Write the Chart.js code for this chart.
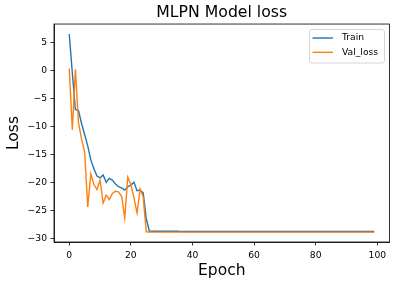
<!DOCTYPE html>
<html>
<head>
<meta charset="utf-8">
<script src="https://cdn.jsdelivr.net/npm/chart.js@4.4.1/dist/chart.umd.min.js"></script>
<style>
  html, body { margin: 0; padding: 0; background: #fff; }
  #wrap { width: 396px; height: 285px; }
</style>
</head>
<body>
<div id="wrap"><canvas id="lossChart" width="396" height="285"></canvas></div>
<script>
// DADOS DO GRÁFICO
const epochs = Array.from({ length: 100 }, (_, i) => i);

const trainLoss = [
  6.5, -0.5, -7.0, -7.2, -9.5, -11.5, -13.5, -16.0, -17.6, -18.9,
  -19.2, -18.7, -20.0, -19.3, -19.6, -20.3, -20.8, -21.0, -21.4, -20.8,
  -20.5, -20.0, -21.5, -21.4, -21.9, -26.5, -28.7, -28.75, -28.75, -28.75,
  -28.75, -28.75, -28.75, -28.75, -28.75, -28.75, -28.8, -28.8, -28.8, -28.8,
  -28.8, -28.8, -28.8, -28.8, -28.8, -28.8, -28.8, -28.8, -28.8, -28.8,
  -28.8, -28.8, -28.8, -28.8, -28.8, -28.8, -28.8, -28.8, -28.8, -28.8,
  -28.8, -28.8, -28.8, -28.8, -28.8, -28.8, -28.8, -28.8, -28.8, -28.8,
  -28.8, -28.8, -28.8, -28.8, -28.8, -28.8, -28.8, -28.8, -28.8, -28.8,
  -28.8, -28.8, -28.8, -28.8, -28.8, -28.8, -28.8, -28.8, -28.8, -28.8,
  -28.8, -28.8, -28.8, -28.8, -28.8, -28.8, -28.8, -28.8, -28.8, -28.8,
];

const valLoss = [
  0.3, -10.6, 0.2, -9.4, -12.3, -14.6, -24.4, -18.5, -20.4, -21.3,
  -19.6, -23.7, -22.3, -23.1, -22.0, -21.6, -21.7, -22.5, -26.4, -19.1,
  -20.4, -22.8, -25.5, -21.2, -22.6, -28.85, -28.9, -28.9, -28.9, -28.9,
  -28.9, -28.9, -28.9, -28.9, -28.9, -28.9, -28.9, -28.9, -28.9, -28.9,
  -28.9, -28.9, -28.9, -28.9, -28.9, -28.9, -28.9, -28.9, -28.9, -28.9,
  -28.9, -28.9, -28.9, -28.9, -28.9, -28.9, -28.9, -28.9, -28.9, -28.9,
  -28.9, -28.9, -28.9, -28.9, -28.9, -28.9, -28.9, -28.9, -28.9, -28.9,
  -28.9, -28.9, -28.9, -28.9, -28.9, -28.9, -28.9, -28.9, -28.9, -28.9,
  -28.9, -28.9, -28.9, -28.9, -28.9, -28.9, -28.9, -28.9, -28.9, -28.9,
  -28.9, -28.9, -28.9, -28.9, -28.9, -28.9, -28.9, -28.9, -28.9, -28.9,
];

const xTicks = [0, 20, 40, 60, 80, 100];
const yTicks = [5, 0, -5, -10, -15, -20, -25, -30];
const xRange = [-4.95, 103.95];
const yRange = [-30.67, 8.27];

// FONTE PADRÃO
const FONT = "'DejaVu Sans', 'Liberation Sans', sans-serif";
Chart.defaults.font.family = FONT;
Chart.defaults.color = "#000";

const minus = (v) => (v < 0 ? "\u2212" + Math.abs(v) : String(v));

// CAIXA À VOLTA DA ÁREA DO GRÁFICO (como o matplotlib)
const frameBox = {
  id: "frameBox",
  afterDatasetsDraw(chart) {
    const { ctx, chartArea: a } = chart;
    ctx.save();
    ctx.strokeStyle = "#000";
    ctx.lineWidth = 0.8;
    ctx.strokeRect(a.left, a.top, a.right - a.left, a.bottom - a.top);
    ctx.restore();
  },
};

// LEGENDA DENTRO DO GRÁFICO, CANTO SUPERIOR DIREITO
const innerLegend = {
  id: "innerLegend",
  afterDraw(chart) {
    const { ctx, chartArea: a } = chart;
    const sets = chart.data.datasets;
    const w = 75, h = 33.5;
    const x = a.right - 5 - w, y = a.top + 5.5;
    ctx.save();
    ctx.beginPath();
    ctx.roundRect(x, y, w, h, 2.5);
    ctx.fillStyle = "rgba(255,255,255,0.8)";
    ctx.fill();
    ctx.strokeStyle = "#cccccc";
    ctx.lineWidth = 0.8;
    ctx.stroke();
    ctx.font = "9.2px " + FONT;
    ctx.textBaseline = "middle";
    sets.forEach((ds, i) => {
      const ly = y + 8.5 + i * 14.3;
      ctx.beginPath();
      ctx.moveTo(x + 3, ly);
      ctx.lineTo(x + 23.5, ly);
      ctx.strokeStyle = ds.borderColor;
      ctx.lineWidth = ds.borderWidth;
      ctx.stroke();
      ctx.fillStyle = "#000";
      ctx.fillText(ds.label, x + 32.5, ly);
    });
    ctx.restore();
  },
};

const ctx = document.getElementById("lossChart");
new Chart(ctx, {
  type: "line",
  data: {
    labels: epochs,
    datasets: [
      {
        label: "Train",
        data: trainLoss,
        borderColor: "#1f77b4",
        borderWidth: 1.4,
        pointRadius: 0,
        tension: 0,
        order: 1,
      },
      {
        label: "Val_loss",
        data: valLoss,
        borderColor: "#ff7f0e",
        borderWidth: 1.4,
        pointRadius: 0,
        tension: 0,
        order: 0,
      },
    ],
  },
  options: {
    responsive: false,
    animation: false,
    events: [],
    layout: { padding: { left: 0, right: 6.5, top: 0, bottom: 0 } },
    plugins: {
      legend: { display: false },
      tooltip: { enabled: false },
      title: {
        display: true,
        text: "MLPN Model loss",
        fullSize: false,
        color: "#000",
        font: { size: 15.7, weight: "normal" },
        padding: { top: 4, bottom: 1.2 },
      },
    },
    scales: {
      x: {
        type: "linear",
        min: xRange[0],
        max: xRange[1],
        afterBuildTicks: (s) => { s.ticks = xTicks.map((v) => ({ value: v })); },
        afterFit: (s) => { s.height = 43; },
        grid: { display: true, drawOnChartArea: false, tickLength: 3.5, tickColor: "#000", tickWidth: 0.8 },
        border: { display: true, color: "#000", width: 0.8 },
        ticks: { padding: 4.5, font: { size: 9.2 }, color: "#000", maxRotation: 0, callback: (v) => minus(v) },
        title: { display: true, text: "Epoch", font: { size: 15.5 }, color: "#000", padding: { top: 0, bottom: 5 } },
      },
      y: {
        type: "linear",
        min: yRange[0],
        max: yRange[1],
        afterBuildTicks: (s) => { s.ticks = yTicks.map((v) => ({ value: v })); },
        afterFit: (s) => { s.width = 54; },
        grid: { display: true, drawOnChartArea: false, tickLength: 3.5, tickColor: "#000", tickWidth: 0.8 },
        border: { display: true, color: "#000", width: 0.8 },
        ticks: { padding: 3.5, font: { size: 9.2 }, color: "#000", callback: (v) => minus(v) },
        title: { display: true, text: "Loss", font: { size: 15.5 }, color: "#000", padding: { top: 5, bottom: 0 } },
      },
    },
  },
  plugins: [frameBox, innerLegend],
});
</script>
</body>
</html>
